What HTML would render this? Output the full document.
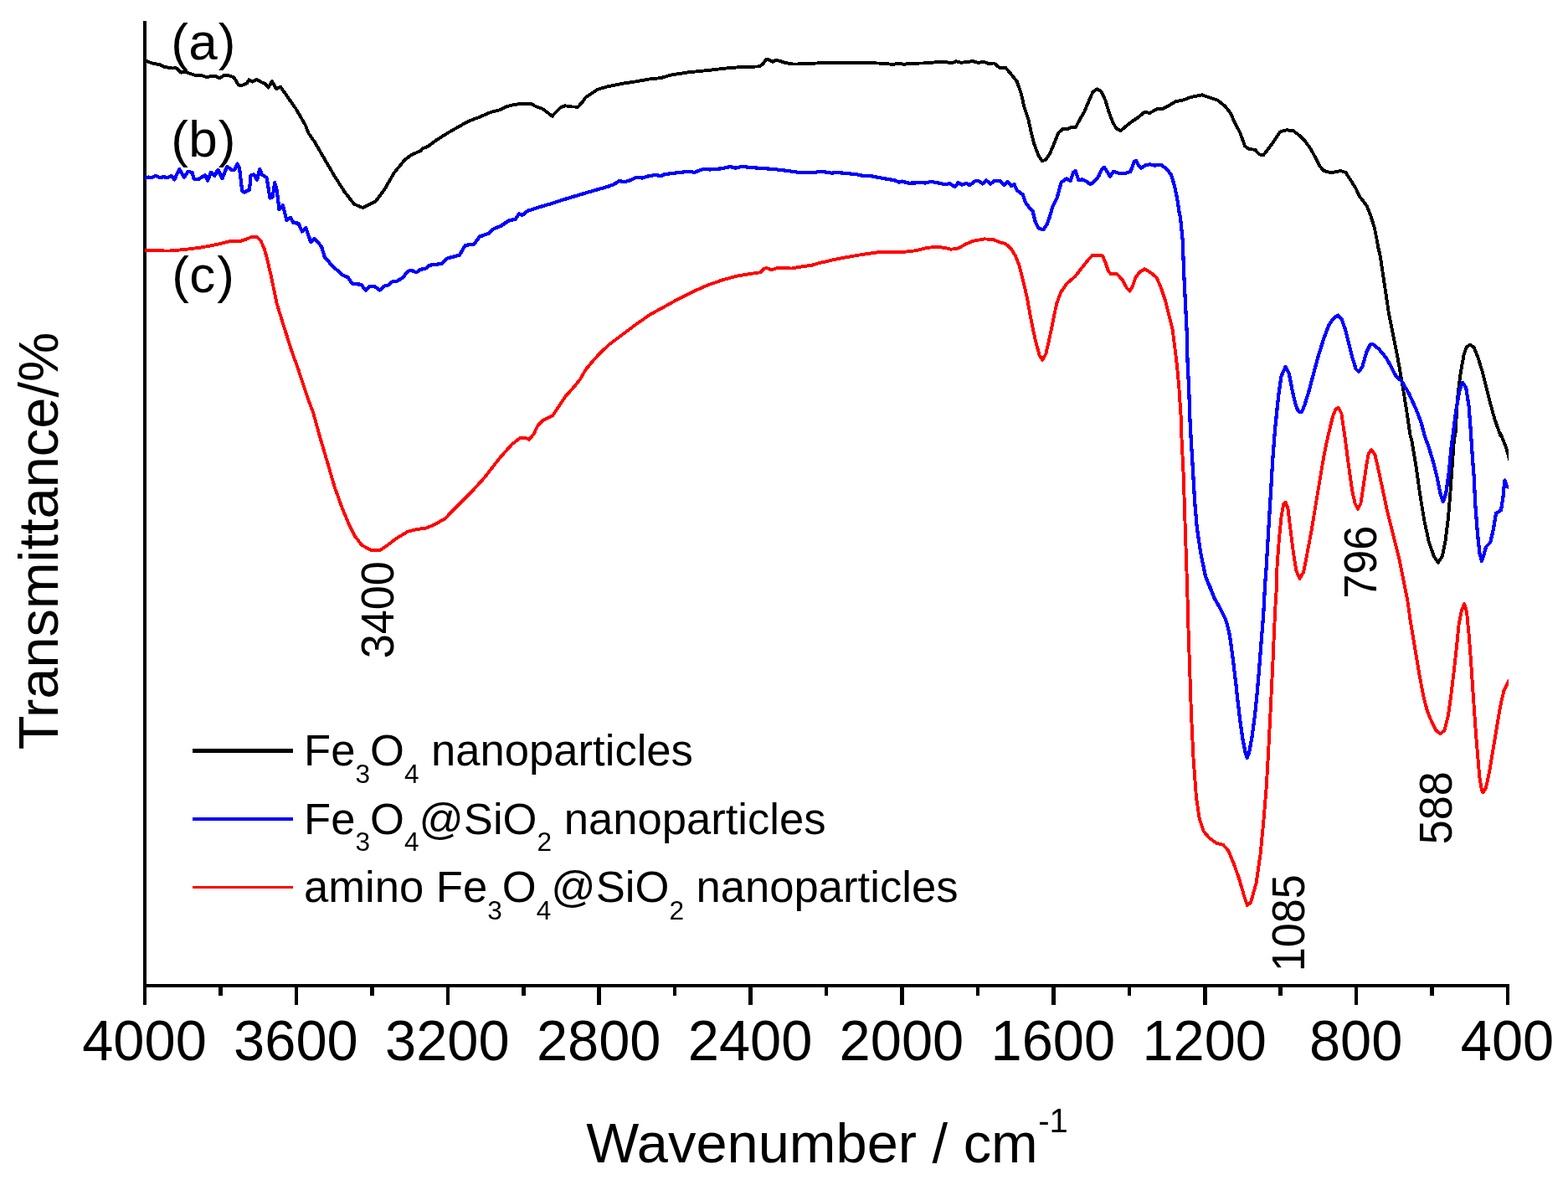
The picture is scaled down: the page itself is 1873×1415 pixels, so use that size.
<!DOCTYPE html>
<html lang="en"><head><meta charset="utf-8"><title>FTIR spectra of nanoparticles</title>
<style>
html,body{margin:0;padding:0;background:#fff;}
body{width:1873px;height:1415px;overflow:hidden;}
svg{display:block;}
text{font-family:"Liberation Sans",sans-serif;fill:#000;}
.ax{font-size:66.8px;}
.lg{font-size:52.6px;}
.sb{font-size:31.6px;}
.abc{font-size:62px;}
.pk{font-size:52.2px;}
.sp{font-size:40px;}
.cv{fill:none;stroke-linejoin:round;stroke-linecap:butt;shape-rendering:crispEdges;}
</style></head><body>
<svg width="1873" height="1415" viewBox="0 0 1873 1415">
<rect x="0" y="0" width="1873" height="1415" fill="#ffffff"/>
<defs><clipPath id="plotclip"><rect x="173" y="0" width="1629" height="1177"/></clipPath></defs>
<g fill="#000" shape-rendering="crispEdges">
<rect x="171" y="25" width="4" height="1175"/>
<rect x="171" y="1175" width="1632" height="4"/>
<rect x="261.2" y="1177" width="4.5" height="12"/>
<rect x="351.6" y="1177" width="4.5" height="23"/>
<rect x="442.1" y="1177" width="4.5" height="12"/>
<rect x="532.5" y="1177" width="4.5" height="23"/>
<rect x="623.0" y="1177" width="4.5" height="12"/>
<rect x="713.4" y="1177" width="4.5" height="23"/>
<rect x="803.9" y="1177" width="4.5" height="12"/>
<rect x="894.3" y="1177" width="4.5" height="23"/>
<rect x="984.8" y="1177" width="4.5" height="12"/>
<rect x="1075.2" y="1177" width="4.5" height="23"/>
<rect x="1165.6" y="1177" width="4.5" height="12"/>
<rect x="1256.1" y="1177" width="4.5" height="23"/>
<rect x="1346.5" y="1177" width="4.5" height="12"/>
<rect x="1437.0" y="1177" width="4.5" height="23"/>
<rect x="1527.4" y="1177" width="4.5" height="12"/>
<rect x="1617.9" y="1177" width="4.5" height="23"/>
<rect x="1708.3" y="1177" width="4.5" height="12"/>
<rect x="1798.8" y="1177" width="4.5" height="23"/>
</g>
<g clip-path="url(#plotclip)">
<polyline class="cv" stroke="#000000" stroke-width="3.9" points="172.8,72.6 175.0,73.0 182.2,75.5 190.8,77.2 195.9,79.8 206.1,81.5 210.4,81.2 216.4,86.6 221.5,85.8 228.3,88.3 235.2,90.4 240.3,90.0 247.1,92.1 252.3,90.9 257.4,90.9 262.5,93.5 267.6,89.7 272.8,90.0 279.6,92.6 284.7,101.2 288.1,102.3 295.0,99.4 297.5,95.2 301.8,97.7 306.9,94.8 312.1,98.2 317.2,100.3 320.6,104.6 324.9,96.9 330.0,106.3 335.1,103.7 341.1,112.3 353.1,129.3 365.0,149.8 368.6,159.2 375.3,168.6 387.2,189.1 399.2,209.6 411.1,228.4 423.1,243.8 433.4,248.1 448.7,240.4 459.0,226.7 470.9,206.2 484.0,190.3 492.6,184.3 502.8,180.0 504.2,177.5 511.0,175.0 521.3,167.3 534.9,158.7 546.9,151.9 558.8,145.1 572.5,139.9 586.2,134.0 596.4,131.4 605.0,127.1 615.2,124.9 623.8,123.7 634.0,123.7 640.8,127.5 647.7,129.7 654.5,134.8 659.6,138.8 664.8,133.1 669.9,128.0 675.0,126.3 683.6,127.5 690.4,127.6 695.5,122.0 699.8,116.0 707.5,110.9 714.3,106.6 726.3,103.2 743.4,99.8 760.4,97.2 774.1,94.7 790.0,93.0 800.5,89.7 822.7,86.3 848.3,83.7 865.4,81.7 885.9,80.0 907.3,79.4 911.6,76.0 915.0,70.9 918.4,71.4 922.7,73.8 926.9,71.8 932.1,73.1 938.9,75.2 947.4,76.5 959.4,76.4 971.4,75.7 990.1,74.8 1029.4,74.8 1053.4,75.7 1067.0,76.9 1073.9,75.5 1079.8,76.9 1085.8,75.9 1100.0,75.5 1107.1,75.4 1119.0,74.2 1129.3,73.8 1136.1,75.5 1142.1,73.3 1148.1,74.7 1154.9,74.2 1161.8,73.0 1168.6,75.0 1174.6,73.7 1180.5,75.9 1187.4,75.5 1194.2,81.0 1201.1,80.7 1207.9,88.7 1214.7,97.2 1219.8,111.8 1223.3,127.1 1228.4,142.5 1231.8,157.9 1235.2,171.6 1240.3,185.2 1244.6,192.1 1248.9,191.2 1254.0,183.5 1259.1,171.6 1264.3,158.7 1270.2,153.6 1276.2,153.6 1279.6,151.9 1284.8,152.2 1289.9,142.5 1295.0,134.0 1300.1,122.0 1305.3,110.0 1310.4,106.3 1315.5,109.2 1320.6,120.3 1324.1,132.3 1329.2,145.9 1333.5,153.6 1338.6,156.2 1344.6,151.1 1351.4,145.6 1359.9,139.9 1366.8,134.0 1373.6,134.8 1382.2,130.2 1389.0,129.7 1397.5,125.4 1404.4,121.2 1410.0,120.0 1413.7,119.5 1422.2,116.0 1435.9,113.3 1444.4,116.4 1454.7,119.8 1463.2,126.6 1470.0,135.2 1475.2,147.1 1481.2,158.2 1487.1,174.5 1492.3,178.2 1499.1,178.7 1504.2,184.4 1509.3,185.1 1516.2,176.2 1523.0,166.8 1529.0,157.4 1536.7,155.3 1544.4,156.0 1552.1,161.7 1558.9,168.5 1565.7,177.9 1570.8,187.3 1576.0,197.5 1581.1,203.9 1589.6,206.1 1596.5,205.2 1601.6,204.0 1607.6,206.1 1613.6,215.5 1619.5,224.9 1623.8,234.3 1632.4,245.4 1637.5,258.2 1641.8,271.9 1645.2,288.9 1646.9,300.0 1646.1,293.7 1648.7,305.6 1653.8,339.8 1658.9,374.0 1664.1,399.6 1669.2,425.2 1674.3,454.3 1679.4,485.0 1684.6,520.0 1686.3,525.6 1691.4,556.4 1696.5,592.3 1701.6,623.0 1706.8,646.9 1712.7,664.0 1717.9,671.7 1723.0,664.0 1726.4,646.9 1729.8,619.6 1732.4,588.8 1735.0,551.3 1737.5,517.1 1738.4,520.0 1740.9,476.5 1744.4,447.4 1748.6,423.5 1752.0,414.1 1756.3,411.6 1760.6,415.0 1764.9,425.2 1770.8,444.0 1775.1,461.1 1780.2,481.6 1785.4,500.4 1792.2,520.0 1792.2,517.1 1799.0,534.2 1801.6,543.6 1803.8,551.3"/>
<polyline class="cv" stroke="#0000ff" stroke-width="4.2" points="171.9,212.9 173.2,212.9 177.7,211.6 181.5,211.9 186.0,210.0 190.5,211.9 195.6,211.3 200.8,211.9 204.6,210.1 208.4,214.5 211.0,208.4 214.2,202.0 220.0,211.6 224.5,204.9 229.6,205.9 231.5,213.6 237.9,213.6 245.0,209.1 248.2,215.5 252.0,205.9 256.5,209.7 260.3,202.7 265.5,212.9 271.2,198.8 276.4,202.7 280.2,202.7 283.4,195.6 286.0,200.8 289.2,227.7 291.7,229.6 298.1,226.4 299.4,209.7 303.3,208.4 307.1,214.8 310.3,202.0 312.9,208.4 318.6,212.3 322.5,236.6 325.7,235.3 328.2,218.1 330.8,227.7 333.4,250.1 337.9,245.0 342.3,262.9 346.8,259.7 350.7,266.1 356.4,266.7 360.9,276.4 365.4,271.9 371.2,289.2 375.7,284.7 384.0,294.3 387.8,307.1 398.1,318.6 410.0,328.9 415.7,331.2 420.8,338.9 431.1,339.7 437.0,346.6 441.3,342.3 447.3,342.0 453.6,346.6 459.2,341.5 464.4,340.3 468.6,336.3 474.6,335.5 481.5,331.2 486.6,324.4 490.8,322.7 497.7,325.2 502.0,321.8 507.9,321.0 513.1,316.7 527.6,315.0 534.4,308.5 548.9,304.7 555.8,292.8 566.0,291.9 572.9,282.5 583.1,279.1 589.9,273.1 598.5,269.7 608.7,262.9 615.6,262.0 619.8,255.2 624.1,256.9 630.9,251.4 640.0,248.9 640.8,248.4 657.9,243.3 675.0,237.8 692.1,232.7 709.2,227.6 726.3,222.8 733.1,220.2 739.9,216.0 745.1,217.3 753.6,215.1 760.4,211.7 767.3,212.6 775.8,210.0 782.7,209.1 790.0,210.0 793.7,208.1 805.6,206.7 822.7,204.7 829.5,205.9 839.8,201.9 848.3,202.5 862.0,201.3 872.3,199.0 878.2,200.7 885.9,199.0 899.6,200.2 925.2,202.1 942.3,204.2 954.3,205.9 973.1,205.9 980.7,204.7 993.6,206.7 998.7,205.9 1022.6,208.1 1029.4,209.6 1039.7,210.1 1053.4,212.7 1068.7,215.3 1073.9,217.8 1077.3,216.6 1085.8,218.7 1100.0,218.2 1105.4,218.5 1112.2,216.8 1120.8,218.5 1129.3,220.2 1134.4,219.0 1140.4,223.2 1144.7,218.0 1148.9,220.8 1154.1,218.9 1158.3,221.1 1165.2,216.0 1168.6,216.0 1173.7,219.4 1178.0,215.1 1183.1,219.7 1187.4,216.0 1194.2,216.0 1199.3,221.1 1203.6,216.8 1207.9,222.0 1211.6,220.2 1214.7,227.1 1221.6,232.2 1225.0,241.6 1229.2,247.6 1233.5,251.9 1236.9,265.5 1240.3,272.4 1246.3,274.4 1250.6,268.1 1254.0,258.7 1257.4,246.7 1262.6,236.5 1267.7,217.7 1273.7,213.4 1278.8,216.0 1282.2,205.7 1284.8,204.0 1288.2,215.1 1292.5,214.3 1296.7,216.0 1302.7,220.2 1308.7,215.1 1312.1,210.8 1315.5,203.2 1318.9,199.7 1323.2,205.7 1325.8,210.8 1330.0,204.9 1336.0,206.6 1342.9,207.4 1350.5,204.9 1354.8,192.9 1357.4,192.1 1359.9,197.2 1363.4,200.6 1368.5,197.2 1373.6,196.3 1378.7,197.5 1387.3,197.2 1394.1,202.3 1399.2,209.1 1402.7,221.1 1406.1,236.5 1408.6,253.6 1410.0,260.0 1412.6,285.6 1414.3,328.3 1416.0,362.5 1417.7,396.7 1418.5,430.8 1420.2,465.0 1421.4,500.0 1422.1,514.2 1424.7,556.9 1427.2,599.6 1429.8,630.3 1434.1,659.4 1440.0,688.4 1446.9,705.5 1445.2,700.0 1450.3,713.7 1457.1,725.6 1464.0,739.3 1468.2,754.7 1470.8,771.8 1473.4,792.3 1475.9,812.8 1478.5,836.7 1481.1,858.9 1484.5,882.8 1487.9,899.9 1489.6,905.0 1492.2,898.2 1495.6,879.4 1499.0,853.8 1501.6,828.1 1504.1,799.1 1506.7,764.9 1509.2,734.2 1511.0,700.0 1512.7,676.5 1515.2,633.8 1517.8,591.1 1520.3,548.3 1522.9,514.2 1526.3,480.0 1524.5,500.0 1527.0,473.6 1530.4,449.6 1535.6,437.7 1539.8,446.2 1544.1,468.4 1548.0,484.7 1550.6,490.6 1553.0,492.4 1555.1,491.9 1558.5,483.3 1563.3,467.9 1569.2,445.7 1575.2,423.5 1581.2,404.7 1587.2,388.5 1593.1,379.9 1598.3,376.5 1602.5,380.8 1606.8,392.8 1611.1,409.8 1615.4,426.9 1619.6,440.6 1623.0,444.0 1627.3,438.0 1632.4,420.1 1636.7,411.6 1640.1,411.2 1647.0,416.7 1655.5,426.9 1662.3,438.9 1667.5,449.1 1674.3,455.1 1682.8,469.6 1691.4,488.4 1697.4,503.8 1701.6,520.0 1706.8,534.2 1711.9,551.3 1716.2,568.3 1720.4,588.8 1723.8,599.1 1727.3,588.8 1730.7,564.9 1733.2,537.6 1736.7,510.3 1739.2,490.1 1743.5,466.2 1746.9,456.8 1751.2,462.8 1754.6,485.0 1757.2,520.0 1758.0,534.2 1760.6,568.3 1762.3,602.5 1764.9,636.7 1767.4,660.6 1770.0,670.0 1772.5,662.3 1775.1,652.9 1780.2,647.8 1783.6,633.3 1787.1,612.8 1793.0,609.3 1795.6,592.3 1797.3,573.5 1799.9,580.3 1804.1,583.7"/>
<polyline class="cv" stroke="#ff0000" stroke-width="3.9" points="172.8,299.3 175.0,299.3 202.7,299.5 219.8,298.1 236.9,296.0 254.0,293.0 265.9,290.4 276.2,287.8 286.4,288.2 295.0,285.3 300.1,283.1 306.9,282.7 311.2,287.0 315.5,296.4 318.9,308.3 324.0,330.5 330.8,363.0 337.7,385.2 347.9,417.7 356.5,441.6 365.0,467.2 369.3,480.0 374.2,493.0 382.7,523.7 391.3,552.8 399.8,581.8 408.3,605.7 416.9,626.2 423.7,639.9 432.3,651.0 442.5,656.6 454.5,656.6 463.0,651.0 471.6,644.2 486.9,634.8 497.2,632.2 509.1,630.5 519.4,626.2 531.4,619.4 545.0,605.7 562.1,588.6 579.2,569.8 596.3,547.6 611.6,530.5 621.0,523.2 628.7,523.4 632.2,524.9 637.3,518.6 642.4,508.3 649.2,501.5 660.0,496.4 667.1,485.9 675.6,473.1 684.2,463.7 692.7,453.4 699.5,441.5 708.1,431.2 718.3,420.1 728.6,410.7 742.3,400.4 759.3,387.6 776.4,375.7 793.5,366.3 810.6,356.9 827.7,348.3 844.8,340.7 861.9,334.7 878.9,329.9 896.0,327.0 908.0,325.3 912.3,321.0 915.7,320.1 921.6,322.4 928.5,320.1 945.6,320.5 957.5,318.4 970.0,316.7 977.1,314.5 994.2,310.5 1011.3,307.1 1028.3,304.2 1048.8,301.2 1065.9,300.8 1081.3,300.6 1095.0,299.1 1106.9,296.0 1118.9,294.8 1129.1,296.0 1136.0,297.7 1144.5,296.5 1153.1,291.8 1161.6,288.0 1175.3,285.4 1185.5,285.8 1194.1,289.2 1200.9,290.9 1207.7,296.9 1212.9,305.4 1217.1,315.7 1220.5,329.3 1224.0,343.0 1227.4,358.4 1230.8,377.2 1234.2,394.3 1237.6,409.6 1241.9,425.0 1245.3,429.8 1249.4,422.3 1253.7,403.5 1257.9,383.0 1262.2,362.5 1267.3,348.8 1274.2,338.6 1284.4,330.0 1293.0,318.9 1299.8,310.4 1304.9,304.8 1316.9,305.3 1320.3,313.0 1323.7,323.2 1327.1,327.5 1334.0,327.0 1340.8,334.3 1345.9,343.7 1349.3,347.5 1352.8,342.0 1356.2,331.8 1361.3,324.9 1367.3,321.2 1375.0,325.8 1381.8,331.8 1386.9,343.7 1392.1,359.1 1396.3,376.2 1400.6,393.3 1403.2,413.8 1405.7,434.3 1408.3,461.6 1410.8,500.0 1411.0,514.2 1413.6,565.4 1415.3,616.7 1417.0,667.9 1418.7,720.0 1419.5,751.3 1421.3,802.5 1423.0,853.8 1425.5,905.0 1428.1,940.0 1428.9,951.8 1432.7,977.4 1437.8,992.8 1444.3,1000.4 1453.2,1006.9 1460.9,1008.6 1467.3,1015.8 1473.7,1031.2 1480.1,1049.1 1485.3,1067.1 1489.9,1081.2 1494.2,1077.3 1500.6,1054.3 1505.8,1018.4 1509.6,977.4 1512.7,940.0 1515.2,896.5 1517.8,845.2 1520.3,794.0 1522.1,751.3 1523.8,717.1 1525.1,700.0 1525.5,676.5 1528.0,642.3 1530.6,616.7 1533.2,602.2 1535.7,599.6 1538.3,606.4 1541.7,633.8 1545.1,661.1 1548.5,681.6 1552.5,691.0 1557.1,683.3 1561.4,661.1 1566.5,633.8 1571.6,603.0 1576.7,572.3 1581.9,541.5 1587.0,517.6 1592.1,497.1 1595.5,488.5 1598.9,486.8 1602.4,493.7 1606.6,522.7 1610.9,555.2 1615.2,585.9 1618.6,601.3 1622.0,608.1 1625.4,601.3 1628.8,579.1 1632.3,555.2 1634.8,541.5 1638.2,537.2 1642.5,543.2 1646.8,562.0 1651.9,585.9 1657.0,609.8 1663.9,637.2 1670.7,664.5 1676.7,693.6 1681.8,720.0 1684.6,740.5 1689.7,771.3 1694.8,802.0 1699.9,829.3 1705.1,849.8 1710.2,861.8 1715.3,872.1 1720.4,876.3 1725.6,872.1 1729.8,855.0 1733.2,831.1 1736.7,802.0 1740.1,771.3 1742.6,745.6 1746.1,728.5 1749.1,720.9 1752.0,730.3 1754.6,757.6 1757.2,791.8 1759.7,829.3 1762.3,866.9 1764.9,899.4 1767.4,928.4 1770.0,943.8 1771.7,946.4 1775.1,940.4 1779.4,919.9 1783.6,894.3 1787.9,868.6 1792.2,843.0 1796.5,824.2 1801.6,814.0 1805.0,808.8"/>
</g>
<text class="ax" transform="translate(172.5,1266) scale(1,1.03)" text-anchor="middle">4000</text>
<text class="ax" transform="translate(353.4,1266) scale(1,1.03)" text-anchor="middle">3600</text>
<text class="ax" transform="translate(534.3,1266) scale(1,1.03)" text-anchor="middle">3200</text>
<text class="ax" transform="translate(715.2,1266) scale(1,1.03)" text-anchor="middle">2800</text>
<text class="ax" transform="translate(896.1,1266) scale(1,1.03)" text-anchor="middle">2400</text>
<text class="ax" transform="translate(1076.9,1266) scale(1,1.03)" text-anchor="middle">2000</text>
<text class="ax" transform="translate(1257.8,1266) scale(1,1.03)" text-anchor="middle">1600</text>
<text class="ax" transform="translate(1438.7,1266) scale(1,1.03)" text-anchor="middle">1200</text>
<text class="ax" transform="translate(1619.6,1266) scale(1,1.03)" text-anchor="middle">800</text>
<text class="ax" transform="translate(1800.5,1266) scale(1,1.03)" text-anchor="middle">400</text>
<text class="ax" x="700.3" y="1388.3">Wavenumber / cm<tspan class="sp" dy="-36.3" dx="0.5">-1</tspan></text>
<text class="ax" transform="translate(69.3,895.3) rotate(-90)">Transmittance/%</text>
<text class="abc" x="204.3 225.2 260.8" y="70.9">(a)</text>
<text class="abc" x="204.3 225.2 260.8" y="186.7">(b)</text>
<text class="abc" x="205.2 226.2 259.2" y="349">(c)</text>
<text class="pk" transform="translate(469.9,786.3) rotate(-90) scale(1,1.07)">3400</text>
<text class="pk" transform="translate(1558.0,1160.3) rotate(-90) scale(1,1.07)">1085</text>
<text class="pk" transform="translate(1643.6,714.8) rotate(-90) scale(1,1.07)">796</text>
<text class="pk" transform="translate(1733.9,1008.2) rotate(-90) scale(1,1.07)">588</text>
<g shape-rendering="crispEdges">
<rect x="230" y="894" width="120" height="5" fill="#000000"/>
<rect x="230" y="976" width="120" height="4" fill="#0000ff"/>
<rect x="230" y="1058" width="120" height="3" fill="#ff0000"/>
</g>
<text class="lg" x="363" y="914.3">Fe<tspan class="sb" dy="20.2">3</tspan><tspan dy="-20.2">O</tspan><tspan class="sb" dy="20.2">4</tspan><tspan dy="-20.2"> nanoparticles</tspan></text>
<text class="lg" x="363" y="995.8">Fe<tspan class="sb" dy="20.2">3</tspan><tspan dy="-20.2">O</tspan><tspan class="sb" dy="20.2">4</tspan><tspan dy="-20.2">@SiO</tspan><tspan class="sb" dy="20.2">2</tspan><tspan dy="-20.2"> nanoparticles</tspan></text>
<text class="lg" x="363" y="1077.3">amino Fe<tspan class="sb" dy="20.2">3</tspan><tspan dy="-20.2">O</tspan><tspan class="sb" dy="20.2">4</tspan><tspan dy="-20.2">@SiO</tspan><tspan class="sb" dy="20.2">2</tspan><tspan dy="-20.2"> nanoparticles</tspan></text>
</svg>
</body></html>
